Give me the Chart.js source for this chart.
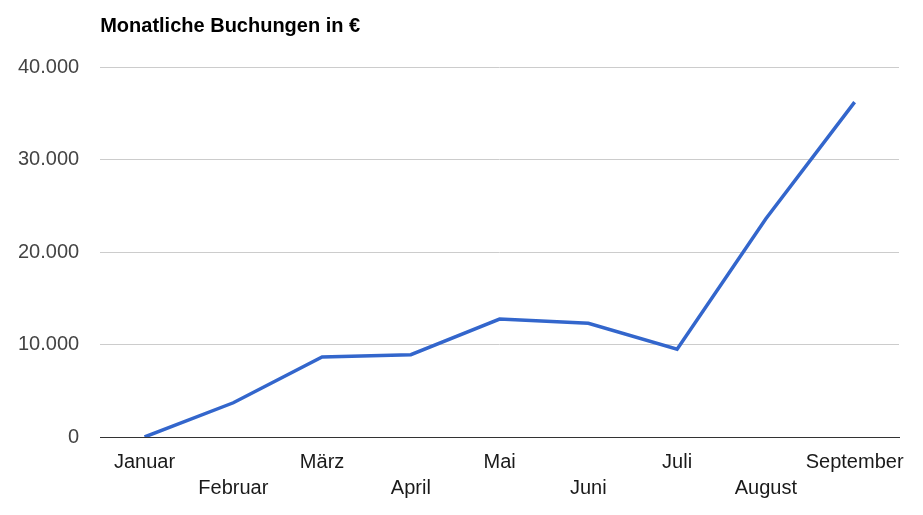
<!DOCTYPE html>
<html>
<head>
<meta charset="utf-8">
<script src="https://cdn.jsdelivr.net/npm/chart.js@4.4.1/dist/chart.umd.min.js"></script>
<style>
  html, body { margin: 0; padding: 0; background: #fff; }
  #wrap { width: 923px; height: 515px; }
</style>
</head>
<body>
<div id="wrap"><canvas id="buchungenChart" width="923" height="515"></canvas></div>
<script>
const months = ['Januar', 'Februar', 'März', 'April', 'Mai', 'Juni', 'Juli', 'August', 'September'];
const bookings = [0, 3700, 8650, 8900, 12750, 12300, 9500, 23600, 36200];
const yTicks = [0, 10000, 20000, 30000, 40000];

// 40000 -> "40.000"
function formatDe(v) {
    return String(v).replace(/\B(?=(\d{3})+(?!\d))/g, '.');
}

const ctx = document.getElementById('buchungenChart').getContext('2d');

const buchungenChart = new Chart(ctx, {
    type: 'line',
    data: {
        labels: months,
        datasets: [{
            label: 'Buchungen',
            data: bookings,
            borderColor: '#3366cc',
            borderWidth: 3.5,
            pointRadius: 0,
            tension: 0,
            fill: false
        }]
    },
    options: {
        responsive: false,
        maintainAspectRatio: false,
        animation: false,
        layout: {
            padding: { left: -3, right: 24, top: 0, bottom: 10 }
        },
        plugins: {
            legend: { display: false },
            tooltip: { enabled: false },
            title: {
                display: true,
                text: 'Monatliche Buchungen in €',
                align: 'start',
                fullSize: false,
                color: '#000',
                font: { family: 'Liberation Sans, Arial', size: 20, weight: 'bold', lineHeight: 1.2 },
                padding: { top: 14, bottom: 29 }
            }
        },
        scales: {
            x: {
                offset: true,
                grid: { display: false },
                border: { display: true, color: '#333', width: 1 },
                ticks: {
                    autoSkip: false,
                    maxRotation: 0,
                    padding: 4,
                    color: '#1a1a1a',
                    font: { family: 'Liberation Sans, Arial', size: 20, lineHeight: 1.3 },
                    callback: function (value, index) {
                        const name = months[index];
                        return index % 2 ? ['', name] : name;
                    }
                }
            },
            y: {
                min: yTicks[0],
                max: yTicks[yTicks.length - 1],
                border: { display: false },
                grid: {
                    drawTicks: false,
                    color: function (c) { return c.tick && c.tick.value === 0 ? '#333' : '#ccc'; }
                },
                afterBuildTicks: function (scale) {
                    scale.ticks = yTicks.map(function (v) { return { value: v }; });
                },
                ticks: {
                    padding: 21,
                    color: '#444',
                    font: { family: 'Liberation Sans, Arial', size: 20 },
                    callback: function (value) { return formatDe(value); }
                }
            }
        }
    }
});
</script>
</body>
</html>
